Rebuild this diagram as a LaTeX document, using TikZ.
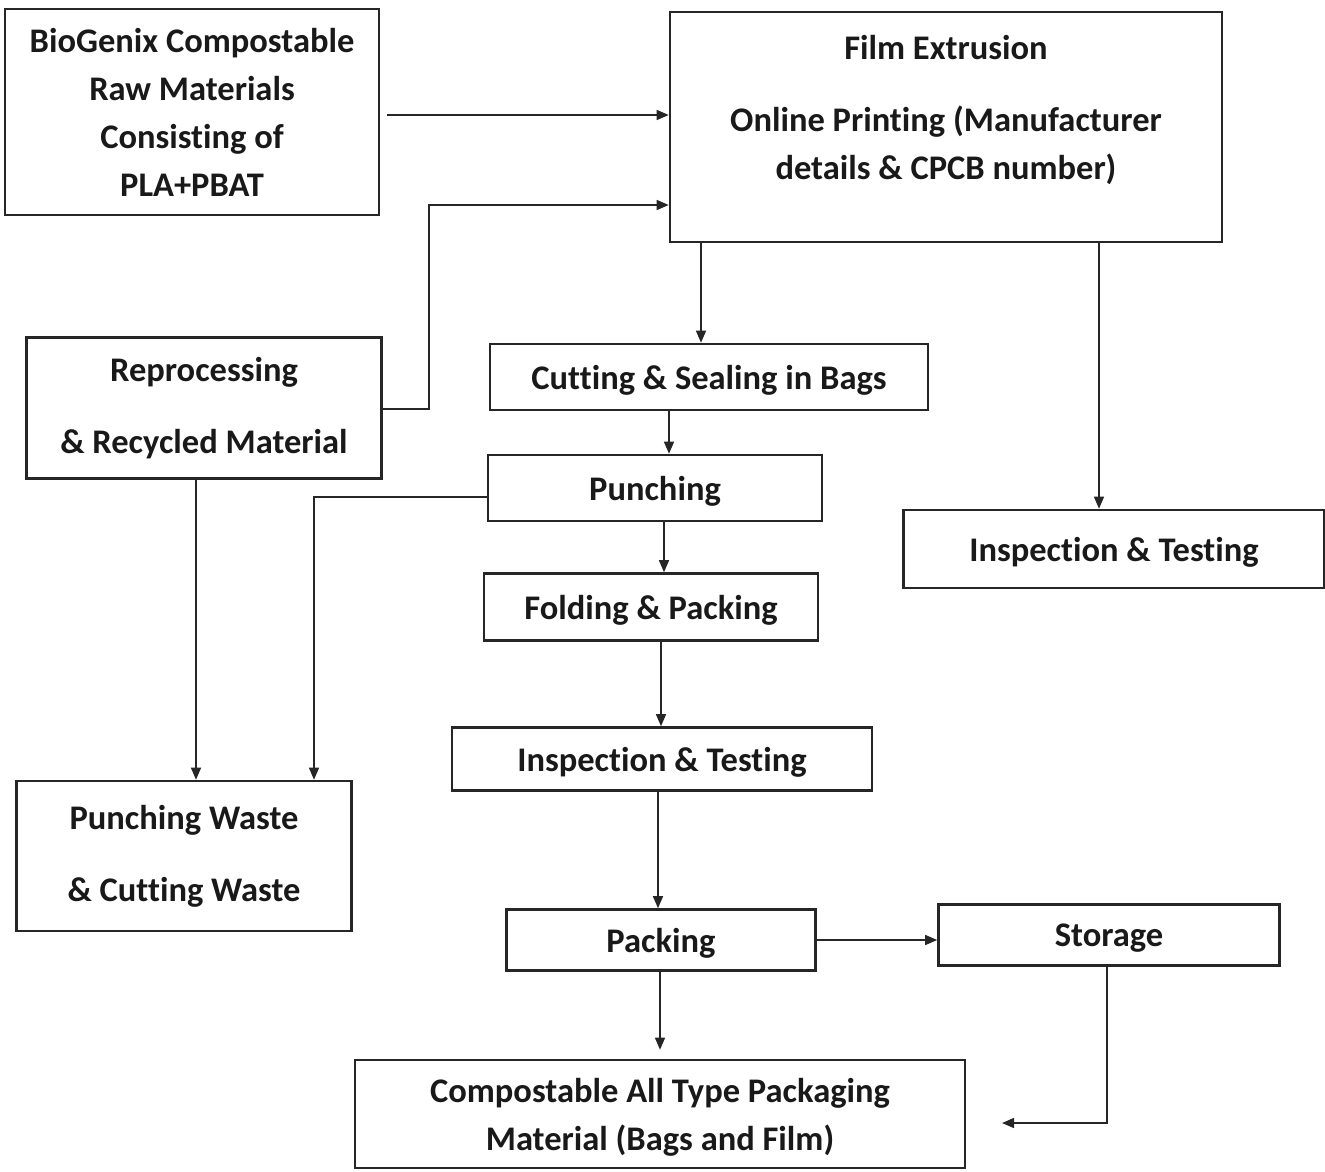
\documentclass[tikz,border=0pt]{standalone}
\usepackage{fontspec}
\setmainfont{Carlito}[Ligatures=NoCommon]
\usetikzlibrary{arrows.meta,calc}
\begin{document}
\begin{tikzpicture}[x=1pt,y=-1pt,
  box/.style={draw=black!85,line width=2.6pt,inner sep=0pt,align=center,
    font=\bfseries\fontsize{34.5}{48}\selectfont,text=black!90},
  one/.style={text depth=0pt},
  txt/.style={inner sep=0pt,align=center,font=\bfseries\fontsize{34.5}{48}\selectfont,text=black!90},
  arr/.style={draw=black!85,line width=1.3pt,-{Triangle[length=12pt,width=10pt]}}]
\useasboundingbox (0,0) rectangle (1325,1172);
\node[box,minimum width=374pt,minimum height=206pt] (raw) at (192,112)
  {BioGenix Compostable\\Raw Materials\\Consisting of\\PLA+PBAT};
\node[box,minimum width=552pt,minimum height=230pt] (film) at (946,127) {};
\node[txt] (filmtxt) at (946,110) {Film Extrusion\\[24pt]Online Printing (Manufacturer\\details \& CPCB number)};
\node[box,minimum width=355pt,minimum height=141pt,font=\bfseries\fontsize{34.5}{72}\selectfont] (rep) at (204,408)
  {Reprocessing\\\& Recycled Material};
\node[box,one,minimum width=438pt,minimum height=66pt] (cut) at (709,377) {Cutting \& Sealing in Bags};
\node[box,one,minimum width=334pt,minimum height=66pt] (punch) at (655,488) {Punching};
\node[box,one,minimum width=421pt,minimum height=78pt] (insR) at (1114,549) {Inspection \& Testing};
\node[box,one,minimum width=334pt,minimum height=67pt] (fold) at (651,607) {Folding \& Packing};
\node[box,one,minimum width=420pt,minimum height=63pt] (insC) at (662,759) {Inspection \& Testing};
\node[box,minimum width=335pt,minimum height=150pt,font=\bfseries\fontsize{34.5}{72}\selectfont] (pw) at (184,856)
  {Punching Waste\\\& Cutting Waste};
\node[box,one,minimum width=309pt,minimum height=61pt] (pack) at (661,940) {Packing};
\node[box,one,minimum width=341pt,minimum height=61pt] (stor) at (1109,935) {Storage};
\node[box,one,minimum width=610pt,minimum height=108pt] (comp) at (660,1114)
  {Compostable All Type Packaging\\Material (Bags and Film)};
\coordinate (free) at (1002,1123);
% connectors
\draw[arr] ($(raw.east|-0,115)+(7,0)$) -- (film.west|-0,115);
\draw[arr] (rep.east|-0,409) -| (429,205) -- (film.west|-0,205);
\draw[arr] (film.south-|701,0) -- (cut.north-|701,0);
\draw[arr] (film.south-|1099,0) -- (insR.north-|1099,0);
\draw[arr] (cut.south-|669,0) -- (punch.north-|669,0);
\draw[arr] (punch.south-|664,0) -- (fold.north-|664,0);
\draw[arr] (punch.west|-0,497) -| (pw.north-|314,0);
\draw[arr] (rep.south-|196,0) -- (pw.north-|196,0);
\draw[arr] (fold.south-|661,0) -- (insC.north-|661,0);
\draw[arr] (insC.south-|658,0) -- (pack.north-|658,0);
\draw[arr] (pack.east|-0,940) -- (stor.west|-0,940);
\draw[arr,shorten >=9pt] (pack.south-|660,0) -- (comp.north-|660,0);
\draw[arr] (stor.south-|1107,0) |- (free);
\end{tikzpicture}
\end{document}
